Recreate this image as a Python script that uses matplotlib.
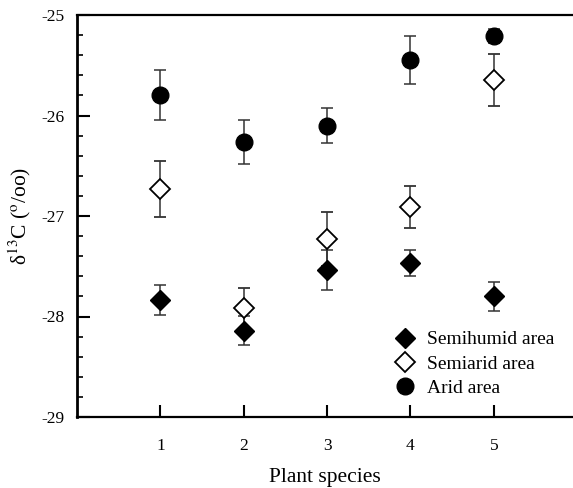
import matplotlib
matplotlib.use("Agg")
import matplotlib.pyplot as plt
from matplotlib.ticker import MultipleLocator
from matplotlib.lines import Line2D

plt.rcParams['font.family'] = ['Liberation Serif', 'DejaVu Serif']
plt.rcParams['mathtext.fontset'] = 'stix'
plt.rcParams['axes.unicode_minus'] = False

species = [1, 2, 3, 4, 5]
semihumid = [-27.84, -28.14, -27.54, -27.47, -27.80]
semihumid_err = [0.15, 0.146, 0.20, 0.131, 0.146]
semiarid = [-26.73, -27.92, -27.23, -26.91, -25.65]
semiarid_err = [0.279, 0.20, 0.265, 0.212, 0.257]
arid = [-25.80, -26.26, -26.10, -25.45, -25.21]
arid_err = [0.249, 0.219, 0.174, 0.24, 0.07]
xticks = [1, 2, 3, 4, 5]
yticks = [-29, -28, -27, -26, -25]

fig = plt.figure(figsize=(5.73, 4.88), dpi=100)
ax = fig.add_axes([77/573, 71/488, 1 - 77/573, (417-15)/488])

ekw = dict(ecolor='#333333', elinewidth=1.1, capsize=4, capthick=1.1, linestyle='none')
ax.errorbar(species, semihumid, yerr=semihumid_err, marker='D', ms=10.5,
            mfc='black', mec='black', zorder=3, **ekw)
ax.errorbar(species, semiarid, yerr=semiarid_err, marker='D', ms=10.5,
            mfc='white', mec='black', mew=1.3, zorder=3, **ekw)
ax.errorbar(species, arid, yerr=arid_err, marker='o', ms=12,
            mfc='black', mec='black', zorder=3, **ekw)

ax.set_xlim(0, 5.95)
ax.set_ylim(-29, -25)
ax.set_xticks(xticks)
ax.set_yticks(yticks)
ax.yaxis.set_minor_locator(MultipleLocator(0.2))
ax.tick_params(axis='both', which='major', direction='in', length=9, width=1.5,
               labelsize=12.5, pad=9)
ax.tick_params(axis='x', which='major', pad=15)
ax.tick_params(axis='y', which='minor', direction='in', length=4.5, width=1.2)
ax.tick_params(axis='y', right=False)
ax.tick_params(axis='x', top=False)

ax.spines['right'].set_visible(False)
ax.spines['left'].set_linewidth(2.0)
ax.spines['bottom'].set_linewidth(1.6)
ax.spines['top'].set_linewidth(1.6)

ax.set_xlabel('Plant species', fontsize=15.5, labelpad=10)
ax.set_ylabel(r'δ$^{13}$C ($^{\mathrm{o}}$/oo)', fontsize=15.5, labelpad=6)

handles = [
    Line2D([], [], marker='D', ms=10.5, mfc='black', mec='black', ls='none'),
    Line2D([], [], marker='D', ms=10.5, mfc='white', mec='black', mew=1.3, ls='none'),
    Line2D([], [], marker='o', ms=12, mfc='black', mec='black', ls='none'),
]
labels = ['Semihumid area', 'Semiarid area', 'Arid area']
ax.legend(handles, labels, loc='lower right', bbox_to_anchor=(0.985, 0.02), frameon=False,
          fontsize=14, handlelength=1.0, handletextpad=0.6, labelspacing=0.35,
          borderaxespad=0.2)

fig.savefig('out.png', dpi=100)
